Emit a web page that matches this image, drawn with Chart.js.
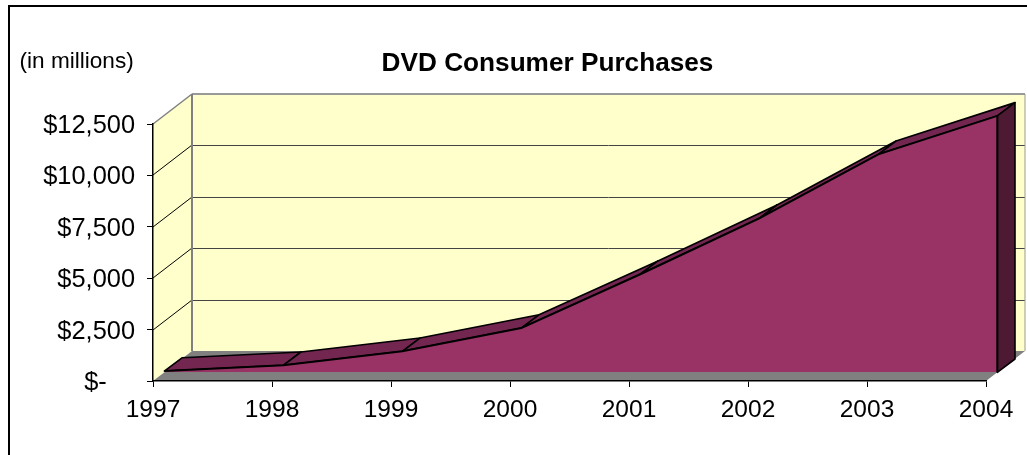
<!DOCTYPE html>
<html>
<head>
<meta charset="utf-8">
<title>DVD Consumer Purchases</title>
<script src="https://cdn.jsdelivr.net/npm/chart.js@4"></script>
<style>
  body { margin: 0; background: #fff; }
  canvas { display: block; }
</style>
</head>
<body>
<canvas id="dvdChart" width="1027" height="455"></canvas>
<script>
const chartTitle = "DVD Consumer Purchases";
const unitNote = "(in millions)";
const years = ["1997", "1998", "1999", "2000", "2001", "2002", "2003", "2004"];
const purchases = [60, 340, 1020, 2150, 4770, 7490, 10600, 12470];
const tickValues = [0, 2500, 5000, 7500, 10000, 12500];
const tickLabels = ["$-    ", "$2,500", "$5,000", "$7,500", "$10,000", "$12,500"];

// Profundidad del efecto 3D, en pixeles
const wallDepth = { x: 39, y: -30 };
const frontDepth = { x: 11.3, y: -8.7 };
const backDepth = { x: 29, y: -22 };

function polygon(ctx, pts, fill, stroke, lineWidth) {
  ctx.beginPath();
  pts.forEach((p, i) => (i ? ctx.lineTo(p[0], p[1]) : ctx.moveTo(p[0], p[1])));
  ctx.closePath();
  if (fill) {
    ctx.fillStyle = fill;
    ctx.fill();
  }
  if (stroke) {
    ctx.strokeStyle = stroke;
    ctx.lineWidth = lineWidth;
    ctx.lineJoin = "round";
    ctx.stroke();
  }
}

function segment(ctx, x1, y1, x2, y2, color, lineWidth) {
  ctx.beginPath();
  ctx.moveTo(x1, y1);
  ctx.lineTo(x2, y2);
  ctx.strokeStyle = color;
  ctx.lineWidth = lineWidth;
  ctx.stroke();
}

// Paredes, piso, marco y textos sueltos
const wallsPlugin = {
  id: "walls",
  beforeDraw(chart) {
    const { ctx, chartArea: a, scales: { y } } = chart;
    const dx = wallDepth.x, dy = wallDepth.y;

    // las etiquetas del eje Y van 2px mas abajo que el centro de la marca
    y.getLabelItems(a).forEach((item) => { item.options.translation[1] += 2; });

    ctx.save();

    // marco
    ctx.fillStyle = "#000";
    ctx.fillRect(8, 5, 1019, 2);
    ctx.fillRect(8, 5, 2, 450);

    polygon(ctx, [[a.left + dx, a.top + dy], [a.right + dx, a.top + dy], [a.right + dx, a.bottom + dy], [a.left + dx, a.bottom + dy]], "#FFFFCC");
    polygon(ctx, [[a.left, a.top], [a.left + dx, a.top + dy], [a.left + dx, a.bottom + dy], [a.left, a.bottom]], "#FFFFCC");
    polygon(ctx, [[a.left, a.bottom], [a.right, a.bottom], [a.right + dx, a.bottom + dy], [a.left + dx, a.bottom + dy]], "#808080");

    tickValues.slice(1, -1).forEach((v) => {
      const py = Math.round(y.getPixelForValue(v));
      segment(ctx, a.left, py, a.left + dx, py + dy, "#000", 1);
      segment(ctx, a.left + dx, py + dy + 0.5, a.right + dx, py + dy + 0.5, "#444", 1);
    });

    // bordes grises de la pared
    segment(ctx, a.left, a.top, a.left + dx, a.top + dy, "#808080", 1.5);
    segment(ctx, a.left + dx, a.top + dy, a.right + dx, a.top + dy, "#999", 2);
    segment(ctx, a.left + dx, a.top + dy, a.left + dx, a.bottom + dy, "#808080", 2);
    segment(ctx, a.right + dx, a.top + dy, a.right + dx, a.bottom + dy, "#999", 1);

    ctx.fillStyle = "#000";
    ctx.textBaseline = "alphabetic";
    ctx.textAlign = "center";
    ctx.font = "bold 26.2px 'Liberation Sans'";
    ctx.fillText(chartTitle, 547.5, 71);
    ctx.textAlign = "left";
    ctx.font = "22.6px 'Liberation Sans'";
    ctx.fillText(unitNote, 19.5, 68);
    ctx.restore();
  },
  beforeDatasetsDraw(chart) {
    const { ctx, scales: { x, y } } = chart;
    const pts = purchases.map((v, i) => [x.getPixelForValue(i), y.getPixelForValue(v)]);
    const front = (p) => [p[0] + frontDepth.x, p[1] + frontDepth.y];
    const back = (p) => [p[0] + backDepth.x, p[1] + backDepth.y];

    ctx.save();
    // cara superior, un tramo por cada par de años
    for (let i = 0; i < pts.length - 1; i++) {
      polygon(ctx, [front(pts[i]), back(pts[i]), back(pts[i + 1]), front(pts[i + 1])], "#732650", "#000", 1.6);
    }
    // cara lateral derecha
    const last = pts[pts.length - 1];
    const base = [last[0], y.getPixelForValue(0)];
    polygon(ctx, [front(last), back(last), back(base), front(base)], "#4D1933", "#000", 1.6);
    ctx.restore();

    // el dataset se dibuja en el plano frontal del area
    ctx.save();
    ctx.translate(frontDepth.x, frontDepth.y);
  },
  afterDatasetsDraw(chart) {
    const { ctx, scales: { x, y } } = chart;
    const endX = x.getPixelForValue(purchases.length - 1);
    segment(ctx, endX, y.getPixelForValue(purchases[purchases.length - 1]), endX, y.getPixelForValue(0), "#000", 2);
    ctx.restore();
  }
};

new Chart(document.getElementById("dvdChart"), {
  type: "line",
  data: {
    labels: years,
    datasets: [
      {
        label: "DVD Consumer Purchases",
        data: purchases,
        borderColor: "#000",
        borderWidth: 2,
        backgroundColor: "#993366",
        fill: "origin",
        tension: 0,
        pointRadius: 0,
        clip: false
      }
    ]
  },
  options: {
    responsive: false,
    animation: false,
    layout: { padding: { top: 124, right: 41, left: 0, bottom: 0 } },
    plugins: {
      legend: { display: false },
      tooltip: { enabled: false }
    },
    scales: {
      x: {
        offset: false,
        afterFit: (scale) => { scale.height = 74; },
        grid: { drawOnChartArea: false, color: "#000", tickLength: 6 },
        border: { color: "#000", width: 1.5 },
        ticks: {
          color: "#000",
          autoSkip: false,
          maxRotation: 0,
          padding: 9,
          font: { family: "'Liberation Sans'", size: 24.5 }
        }
      },
      y: {
        min: 0,
        max: 12500,
        afterFit: (scale) => { scale.width = 153; },
        afterBuildTicks: (scale) => { scale.ticks = tickValues.map((value) => ({ value })); },
        grid: { drawOnChartArea: false, color: "#000", tickLength: 6 },
        border: { color: "#000", width: 1.5 },
        ticks: {
          color: "#000",
          padding: 12,
          font: { family: "'Liberation Sans'", size: 25.4 },
          callback: (value) => tickLabels[tickValues.indexOf(value)]
        }
      }
    }
  },
  plugins: [wallsPlugin]
});
</script>
</body>
</html>
